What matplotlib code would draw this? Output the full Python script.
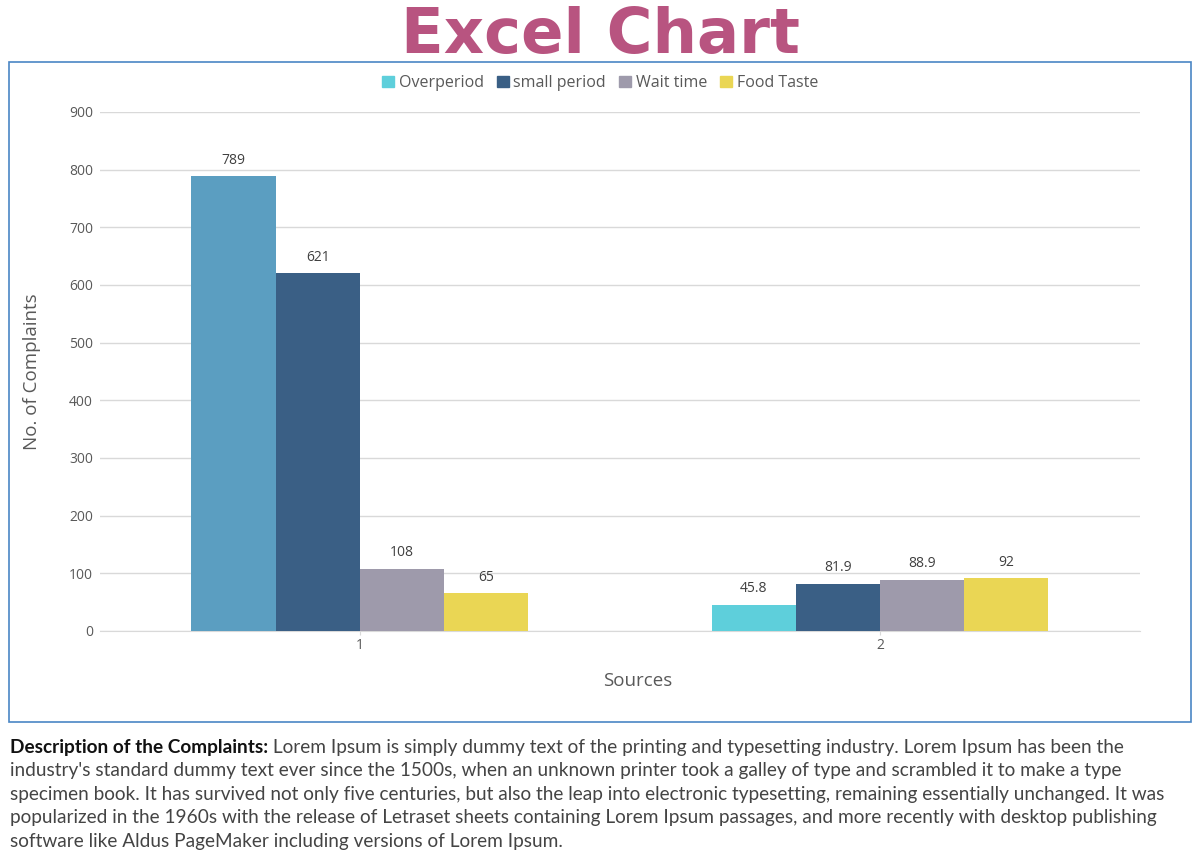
import numpy as np
import matplotlib.pyplot as plt
from matplotlib.patches import Rectangle, Patch

# data
sources = ['1', '2']
series = ['Overperiod', 'small period', 'Wait time', 'Food Taste']
overperiod = [789, 45.8]
small_period = [621, 81.9]
wait_time = [108, 88.9]
food_taste = [65, 92]
colors = ['#5ecfdb', '#3a5f85', '#9e9aab', '#ead654']
first_bar_color = '#5b9ec1'  # first Overperiod bar is recoloured in the original

desc_bold = 'Description of the Complaints:'
desc_lines = [
    " Lorem Ipsum is simply dummy text of the printing and typesetting industry. Lorem Ipsum has been the",
    "industry's standard dummy text ever since the 1500s, when an unknown printer took a galley of type and scrambled it to make a type",
    "specimen book. It has survived not only five centuries, but also the leap into electronic typesetting, remaining essentially unchanged. It was",
    "popularized in the 1960s with the release of Letraset sheets containing Lorem Ipsum passages, and more recently with desktop publishing",
    "software like Aldus PageMaker including versions of Lorem Ipsum.",
]

plt.rcParams['font.family'] = ['Open Sans', 'DejaVu Sans']

fig = plt.figure(figsize=(12, 8.6), dpi=100)
ax = fig.add_axes([0.0833, 0.2663, 0.8667, 0.6035])

x = np.arange(len(sources))
w = 0.162
all_vals = [overperiod, small_period, wait_time, food_taste]
for i, (name, vals, c) in enumerate(zip(series, all_vals, colors)):
    pos = x + (i - 1.5) * w
    bars = ax.bar(pos, vals, width=w, color=c, zorder=3)
    if i == 0:
        bars[0].set_facecolor(first_bar_color)
    for p, v in zip(pos, vals):
        ax.annotate(f'{v:g}', (p, v), xytext=(0, 6), textcoords='offset points',
                    ha='center', va='bottom', fontsize=10, color='#404040')

ax.set_xlim(-0.5, 1.5)
ax.set_ylim(0, 900)
ax.set_yticks(range(0, 901, 100))
ax.set_xticks(x)
ax.set_xticklabels(sources)
ax.grid(axis='y', color='#d9d9d9', linewidth=1, zorder=0)
for s in ['left', 'right', 'top']:
    ax.spines[s].set_visible(False)
ax.spines['bottom'].set_color('#d9d9d9')
ax.tick_params(axis='y', length=0, pad=5, labelsize=10, labelcolor='#595959')
ax.tick_params(axis='x', length=3, pad=2, color='#d9d9d9', labelsize=10, labelcolor='#595959')
ax.set_ylabel('No. of Complaints', fontsize=13.5, color='#595959', labelpad=20)
fig.text(638 / 1200, 1 - 681 / 860, 'Sources', ha='center', va='center',
         fontsize=13.5, color='#595959')

handles = [Patch(color=c) for c in colors]
fig.legend(handles, series, loc='center', bbox_to_anchor=(0.5, 1 - 83 / 860), ncol=4,
           frameon=False, fontsize=11.5, labelcolor='#595959', handlelength=0.75,
           handleheight=0.75, handletextpad=0.3, columnspacing=0.8)

# chart frame
fig.patches.append(Rectangle((9 / 1200, 1 - 722 / 860), 1182 / 1200, 660 / 860,
                             transform=fig.transFigure, fill=False,
                             edgecolor='#4a86c5', linewidth=1.2))

fig.text(0.5, 1 - 53 / 860, 'Excel Chart', ha='center', va='baseline',
         fontsize=45, fontweight='bold', color='#b85480', family='DejaVu Sans')

# description
fig.canvas.draw()
r = fig.canvas.get_renderer()
y0 = 1 - 753 / 860
fs = 13.7
t = fig.text(10 / 1200, y0, desc_bold, fontsize=fs, fontweight='bold',
             color='#111111', family='Lato', va='baseline')
bb = t.get_window_extent(renderer=r)
fig.text(bb.x1 / 1200, y0, desc_lines[0], fontsize=fs, color='#444444',
         family='Lato', va='baseline')
for k, line in enumerate(desc_lines[1:]):
    fig.text(10 / 1200, y0 - (k + 1) * 23.4 / 860, line, fontsize=fs,
             color='#444444', family='Lato', va='baseline')

fig.savefig('out.png', dpi=100)
